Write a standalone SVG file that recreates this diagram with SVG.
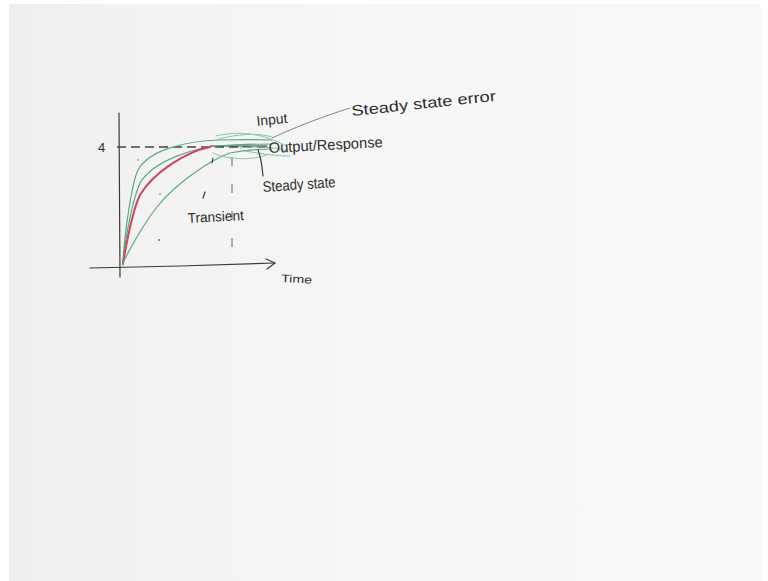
<svg xmlns="http://www.w3.org/2000/svg" width="768" height="581" viewBox="0 0 768 581">
<defs>
<linearGradient id="board" x1="0" y1="0" x2="1" y2="0">
<stop offset="0" stop-color="#efefee"/>
<stop offset="0.5" stop-color="#f7f7f6"/>
<stop offset="1" stop-color="#f9f9f8"/>
</linearGradient>
<style>
.ink{fill:none;stroke:#3a3a3a;stroke-width:1.2;stroke-linecap:round;stroke-linejoin:round}
.dash{fill:none;stroke:#444;stroke-width:1.4;stroke-dasharray:9 5}
.vdash{fill:none;stroke:#666;stroke-width:1;stroke-dasharray:9 18}
.grn{fill:none;stroke:#5aa887;stroke-width:1.2;stroke-linecap:round}
.grnl{fill:none;stroke:#8cc4ac;stroke-width:1;stroke-linecap:round}
.red{fill:none;stroke:#d0455e;stroke-width:2;stroke-linecap:round}
.lead{fill:none;stroke:#777;stroke-width:0.9}
.t{font-family:"Liberation Sans",Arial,sans-serif;fill:#2e2e2e;font-weight:normal}
</style>
</defs>
<rect x="0" y="0" width="768" height="581" fill="#ffffff"/>
<rect x="9" y="4" width="752" height="577" fill="url(#board)"/>

<g id="axes">
<path class="ink" d="M119,113 L120,277"/>
<path class="ink" d="M90,268 L180,266 L275,263"/>
<path class="ink" d="M266,259 L275,263 L267,269"/>
</g>

<g id="input-line">
<path class="dash" d="M117,147 L267,147"/>
<path class="ink" d="M210,146 L267,146"/>
</g>
<path id="divider" class="vdash" d="M232,157 L232,256"/>

<g id="curves">
<path class="grn" d="M123,265 C124,235 132,182 138,170 C149,150 185,141 220,140 C240,139.5 255,139.5 272,140"/>
<path class="grn" d="M123,265 C125,235 134,196 140,183 C153,161 195,146 230,145 C245,144.5 258,144 272,144"/>
<path class="red" d="M123,263 C127,240 134,207 140,195 C153,173 185,152 210,147"/>
<path class="grn" d="M123,263 C130,248 145,222 157,207 C175,184 210,160 230,153 C245,150 258,149 272,149"/>
<path class="grnl" d="M213,141 C235,133 260,133 272,137"/>
<path class="grnl" d="M216,136 C240,130 265,134 286,146"/>
<path class="grnl" d="M213,153 C230,161 258,160 268,154"/>
<path class="grnl" d="M240,148 C260,146 275,147 288,151"/>
<path class="grnl" d="M245,151 C262,154 276,156 290,156"/>
</g>

<g id="marks">
<path class="ink" d="M213,158 L212,163" />
<path class="ink" d="M205,192 L203,198" />
<circle cx="159" cy="240" r="0.9" fill="#555"/>
<circle cx="138" cy="160" r="0.8" fill="#777"/>
<circle cx="152" cy="180" r="0.8" fill="#777"/>
<circle cx="160" cy="194" r="0.8" fill="#777"/>
</g>

<g id="labels">
<text class="t" x="98" y="152" font-size="13">4</text>
<g id="input"><text class="t" x="257" y="126" font-size="14" textLength="31" lengthAdjust="spacingAndGlyphs" transform="rotate(-6 257 126)">Input</text></g>
<g id="output"><text class="t" x="269" y="153" font-size="15" textLength="114" lengthAdjust="spacingAndGlyphs" transform="rotate(-3 269 153)">Output/Response</text></g>
<g id="sse"><text class="t" x="352" y="116" font-size="15" textLength="145" lengthAdjust="spacingAndGlyphs" transform="rotate(-6 352 116)">Steady state error</text></g>
<g id="ss"><text class="t" x="263" y="192" font-size="15" textLength="73" lengthAdjust="spacingAndGlyphs" transform="rotate(-4 263 192)">Steady state</text></g>
<g id="transient"><text class="t" x="188" y="223" font-size="14" textLength="56" lengthAdjust="spacingAndGlyphs" transform="rotate(-3 188 223)">Transient</text></g>
<g id="time"><text class="t" x="281" y="282" font-size="11" textLength="31" lengthAdjust="spacingAndGlyphs" transform="rotate(3 281 282)">Time</text></g>
</g>

<g id="connectors">
<path class="lead" d="M272,138 C300,125 325,116 350,108"/>
<path class="ink" d="M258,150 C262,160 262,168 263,176" stroke-width="1"/>
</g>
</svg>
